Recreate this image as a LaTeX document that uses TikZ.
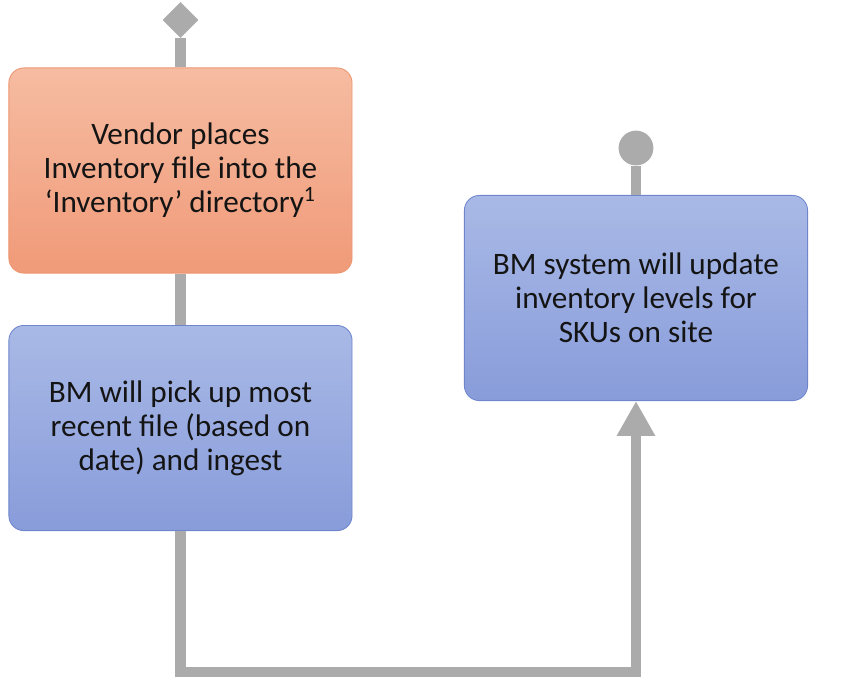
\documentclass[tikz,border=0pt]{standalone}
\usepackage{fontspec}
\setmainfont{Carlito}
\usetikzlibrary{shapes.geometric}
\usetikzlibrary{arrows.meta}

\definecolor{flowgray}{HTML}{ABABAB}
\definecolor{orangetop}{HTML}{F6BCA2}
\definecolor{orangebot}{HTML}{F09A78}
\definecolor{orangeline}{HTML}{EC9570}
\definecolor{bluetop}{HTML}{A9B9E6}
\definecolor{bluebot}{HTML}{889CDA}
\definecolor{blueline}{HTML}{6F86CC}
\definecolor{textdark}{HTML}{141414}

\begin{document}
\begin{tikzpicture}[
    stepbox/.style={draw, rounded corners=0.25cm, minimum width=5.72cm, minimum height=3.42cm,
        align=center, text=textdark, font=\fontsize{14.8}{16.2}\selectfont},
    vendorbox/.style={stepbox, draw=orangeline, top color=orangetop, bottom color=orangebot},
    bmbox/.style={stepbox, draw=blueline, top color=bluetop, bottom color=bluebot},
    flow/.style={draw=flowgray, line width=5.2pt},
    endmark/.style={fill=flowgray, inner sep=0pt}
]
    \useasboundingbox (0,0) rectangle (14.017,11.317);
    \node[vendorbox] (vendor) at (3.008,8.475) {Vendor places\\Inventory file into the\\`Inventory' directory\textsuperscript{1}};
    \node[bmbox] (pick) at (3.008,4.183) {BM will pick up most\\recent file (based on\\date) and ingest};
    \node[bmbox] (update) at (10.6,6.35) {BM system will update\\inventory levels for\\SKUs on site};
    \node[endmark, diamond, minimum width=0.6cm, minimum height=0.6cm] (start) at (3.008,10.983) {};
    \node[endmark, circle, minimum size=0.58cm] (finish) at (10.6,8.85) {};
    \coordinate (bend) at (3.008,0.117);
    \draw[flow] (start) -- (vendor);
    \draw[flow] (vendor) -- (pick);
    \draw[flow] (finish) -- (update);
    \draw[flow, -{Triangle[length=0.58cm, width=0.6cm]}] (pick) -- (bend) -| (update);
\end{tikzpicture}
\end{document}
